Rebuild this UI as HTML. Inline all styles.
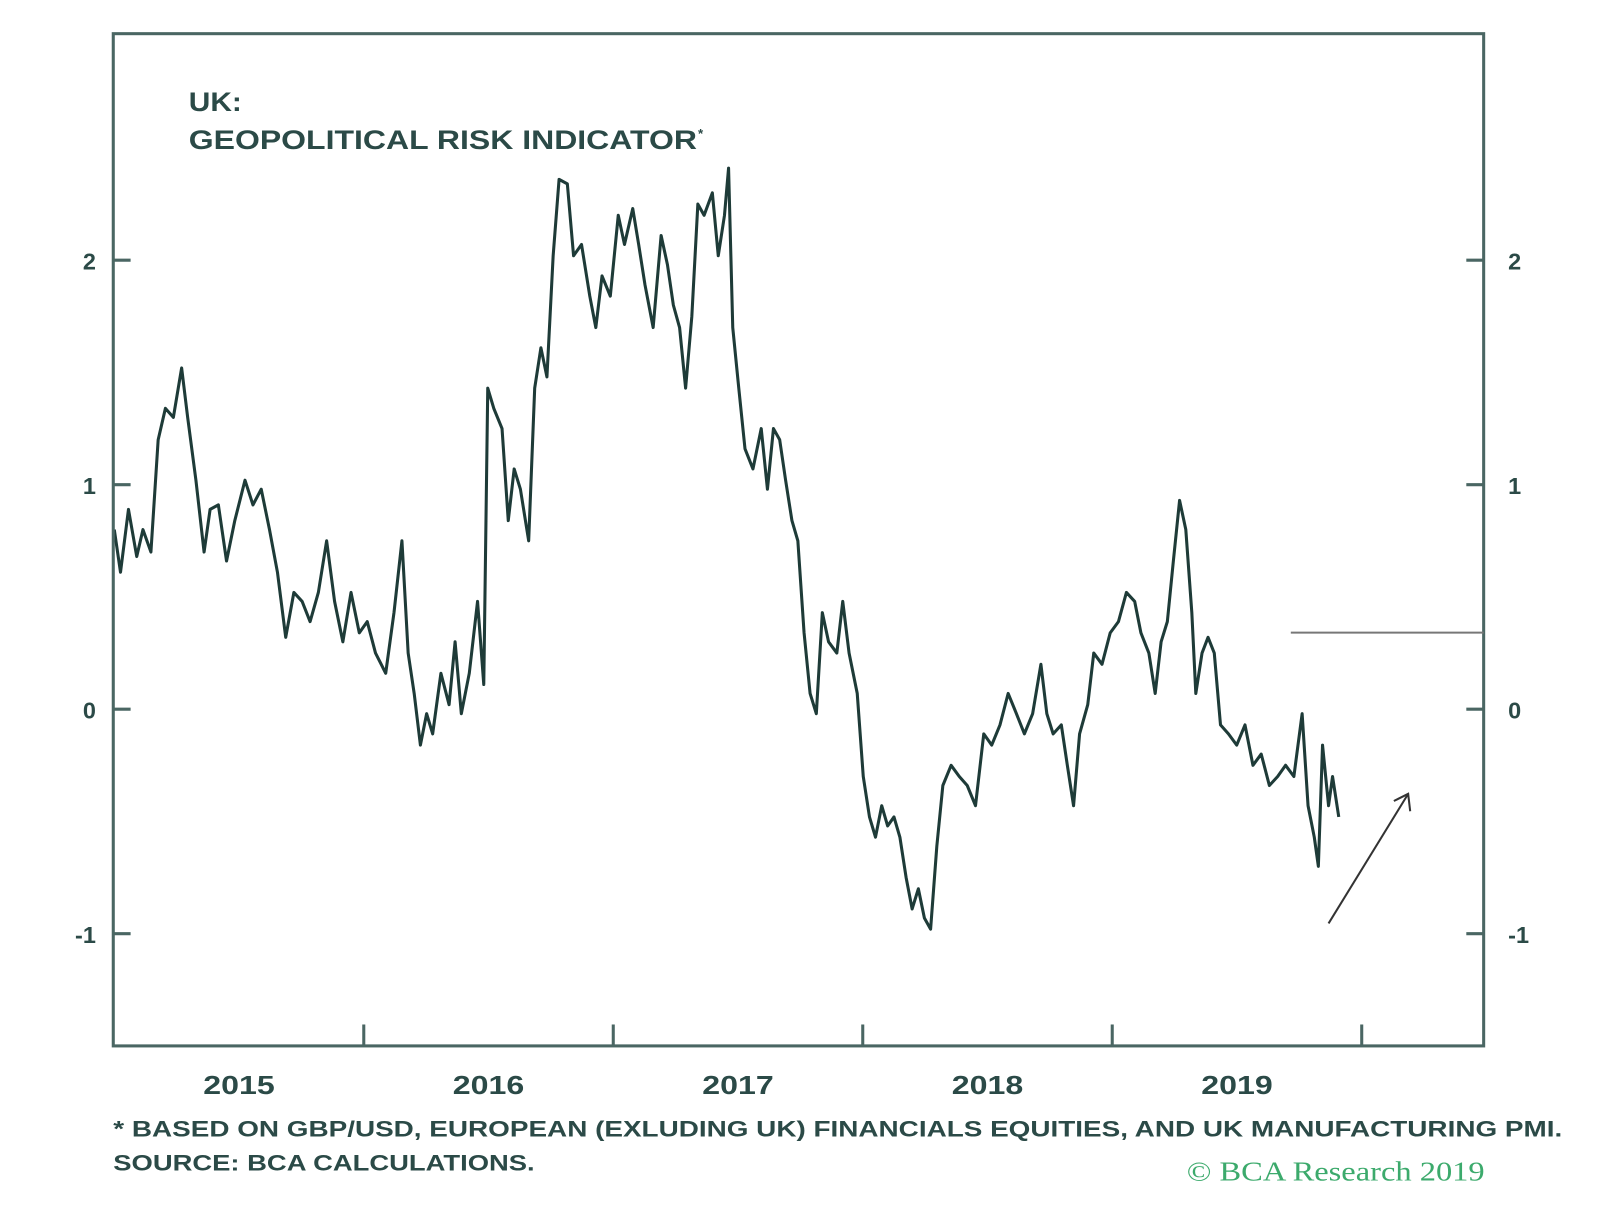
<!DOCTYPE html>
<html><head><meta charset="utf-8"><style>
body{margin:0;background:#fff;}
svg text{font-family:"Liberation Sans",sans-serif;}
</style></head><body>
<svg id="chart" width="1600" height="1211" viewBox="0 0 1600 1211" xmlns="http://www.w3.org/2000/svg">
<rect width="1600" height="1211" fill="#fff"/>
<g transform="scale(1.0204)">
<g id="axes"></g>
<path id="series" fill="none" stroke="#1e3b38" stroke-width="3" stroke-linejoin="round"/>
<rect x="111" y="33" width="1343" height="992" fill="none" stroke="#4a6663" stroke-width="3"/>
<line x1="1265" y1="620" x2="1454" y2="620" stroke="#777" stroke-width="2"/>
<g stroke="#333" stroke-width="2" fill="none">
<line x1="1302" y1="905" x2="1380" y2="778"/>
<polyline points="1366,785 1380,778 1382,795"/>
</g>
<text x="185" y="109" font-size="26" font-weight="bold" fill="#2b4a47" textLength="52" lengthAdjust="spacingAndGlyphs">UK:</text>
<text x="185" y="146" font-size="26" font-weight="bold" fill="#2b4a47" textLength="498" lengthAdjust="spacingAndGlyphs">GEOPOLITICAL RISK INDICATOR</text>
<text x="684" y="135" font-size="13" font-weight="bold" fill="#2b4a47">*</text>
<text x="111" y="1114" font-size="22" font-weight="bold" fill="#2b4a47" textLength="1420" lengthAdjust="spacingAndGlyphs">* BASED ON GBP/USD, EUROPEAN (EXLUDING UK) FINANCIALS EQUITIES, AND UK MANUFACTURING PMI.</text>
<text x="111" y="1147" font-size="22" font-weight="bold" fill="#2b4a47" textLength="413" lengthAdjust="spacingAndGlyphs">SOURCE: BCA CALCULATIONS.</text>
<text x="1163" y="1157" font-size="27" fill="#3caa6c" textLength="292" lengthAdjust="spacingAndGlyphs" style="font-family:'Liberation Serif',serif">© BCA Research 2019</text>
</g>
</svg>
<script>
const yTicks=[2,1,0,-1];
const yearLabels=["2015","2016","2017","2018","2019"];
const yearBounds=[2016,2017,2018,2019,2020];
const times=[0,.025,.057,.090,.115,.147,.176,.205,.237,.270,.294,.327,.360,.384,.417,.450,.483,.524,.556,.589,.622,.654,.687,.720,.753,.785,.818,.851,.883,.916,.949,.982,1.014,1.047,1.088,1.121,1.153,1.178,1.202,1.227,1.252,1.276,1.309,1.342,1.366,1.391,1.423,1.456,1.481,1.497,1.521,1.554,1.579,1.603,1.628,1.661,1.685,1.710,1.734,1.759,1.783,1.816,1.841,1.873,1.906,1.930,1.955,1.988,2.020,2.045,2.078,2.102,2.127,2.160,2.192,2.217,2.241,2.266,2.290,2.315,2.339,2.364,2.397,2.421,2.446,2.462,2.479,2.503,2.528,2.560,2.593,2.618,2.642,2.667,2.691,2.716,2.740,2.765,2.789,2.814,2.838,2.863,2.896,2.920,2.945,2.978,3.002,3.027,3.051,3.076,3.100,3.125,3.149,3.174,3.198,3.223,3.247,3.272,3.297,3.321,3.354,3.387,3.419,3.452,3.485,3.517,3.550,3.583,3.616,3.648,3.681,3.714,3.738,3.763,3.796,3.820,3.845,3.869,3.902,3.926,3.959,3.992,4.025,4.057,4.090,4.115,4.147,4.172,4.196,4.221,4.245,4.270,4.295,4.319,4.335,4.360,4.384,4.409,4.434,4.466,4.499,4.532,4.564,4.597,4.630,4.663,4.695,4.728,4.761,4.785,4.810,4.826,4.843,4.867,4.883,4.908];
const values=[0.8,0.61,0.89,0.68,0.8,0.7,1.2,1.34,1.3,1.52,1.3,1.02,0.7,0.89,0.91,0.66,0.84,1.02,0.91,0.98,0.8,0.61,0.32,0.52,0.48,0.39,0.52,0.75,0.48,0.3,0.52,0.34,0.39,0.25,0.16,0.43,0.75,0.25,0.07,-0.16,-0.02,-0.11,0.16,0.02,0.3,-0.02,0.16,0.48,0.11,1.43,1.34,1.25,0.84,1.07,0.98,0.75,1.43,1.61,1.48,2.02,2.36,2.34,2.02,2.07,1.84,1.7,1.93,1.84,2.2,2.07,2.23,2.07,1.89,1.7,2.11,1.98,1.8,1.7,1.43,1.75,2.25,2.2,2.3,2.02,2.2,2.41,1.7,1.43,1.16,1.07,1.25,0.98,1.25,1.2,1.02,0.84,0.75,0.34,0.07,-0.02,0.43,0.3,0.25,0.48,0.25,0.07,-0.3,-0.48,-0.57,-0.43,-0.52,-0.48,-0.57,-0.75,-0.89,-0.8,-0.93,-0.98,-0.61,-0.34,-0.25,-0.3,-0.34,-0.43,-0.11,-0.16,-0.07,0.07,-0.02,-0.11,-0.02,0.2,-0.02,-0.11,-0.07,-0.25,-0.43,-0.11,0.02,0.25,0.2,0.34,0.39,0.52,0.48,0.34,0.25,0.07,0.3,0.39,0.66,0.93,0.8,0.43,0.07,0.25,0.32,0.25,-0.07,-0.11,-0.16,-0.07,-0.25,-0.2,-0.34,-0.3,-0.25,-0.3,-0.02,-0.43,-0.57,-0.7,-0.16,-0.43,-0.3,-0.48];
const X=t=>112+(t-2015)*244.5;
const Y=v=>695-v*220;
const NS="http://www.w3.org/2000/svg";
const axes=document.getElementById('axes');
function mk(tag,attrs){const e=document.createElementNS(NS,tag);for(const k in attrs)e.setAttribute(k,attrs[k]);return e;}
yTicks.forEach(v=>{
  const l=mk('line',{x1:111,x2:128,y1:Y(v),y2:Y(v),stroke:'#4a6663','stroke-width':3});
  
  
  axes.appendChild(l);
  const r=mk('line',{x1:1437,x2:1454,y1:Y(v),y2:Y(v),stroke:'#4a6663','stroke-width':3});
  
  
  axes.appendChild(r);
  const tl=mk('text',{x:94,y:Y(v)+9,'text-anchor':'end','font-size':23,'font-weight':'bold',fill:'#2b4a47'});
  tl.textContent=v;
  
  
  axes.appendChild(tl);
  const tr=mk('text',{x:1478,y:Y(v)+9,'font-size':23,'font-weight':'bold',fill:'#2b4a47'});
  tr.textContent=v;
  
  
  axes.appendChild(tr);
});
yearBounds.forEach(y=>{
  const l=mk('line',{x1:X(y),x2:X(y),y1:1004,y2:1025,stroke:'#4a6663','stroke-width':3});
  
  
  axes.appendChild(l);
});
yearLabels.forEach((s,i)=>{
  const t=mk('text',{x:X(+s+0.5),y:1072,'text-anchor':'middle','font-size':25,'font-weight':'bold',fill:'#2b4a47',textLength:70,lengthAdjust:'spacingAndGlyphs'});
  t.textContent=s;
  
  
  axes.appendChild(t);
});
document.getElementById('series').setAttribute('d',times.map((t,i)=>(i?'L':'M')+X(2015+t).toFixed(1)+','+Y(values[i]).toFixed(1)).join(''));
</script>
</body></html>
